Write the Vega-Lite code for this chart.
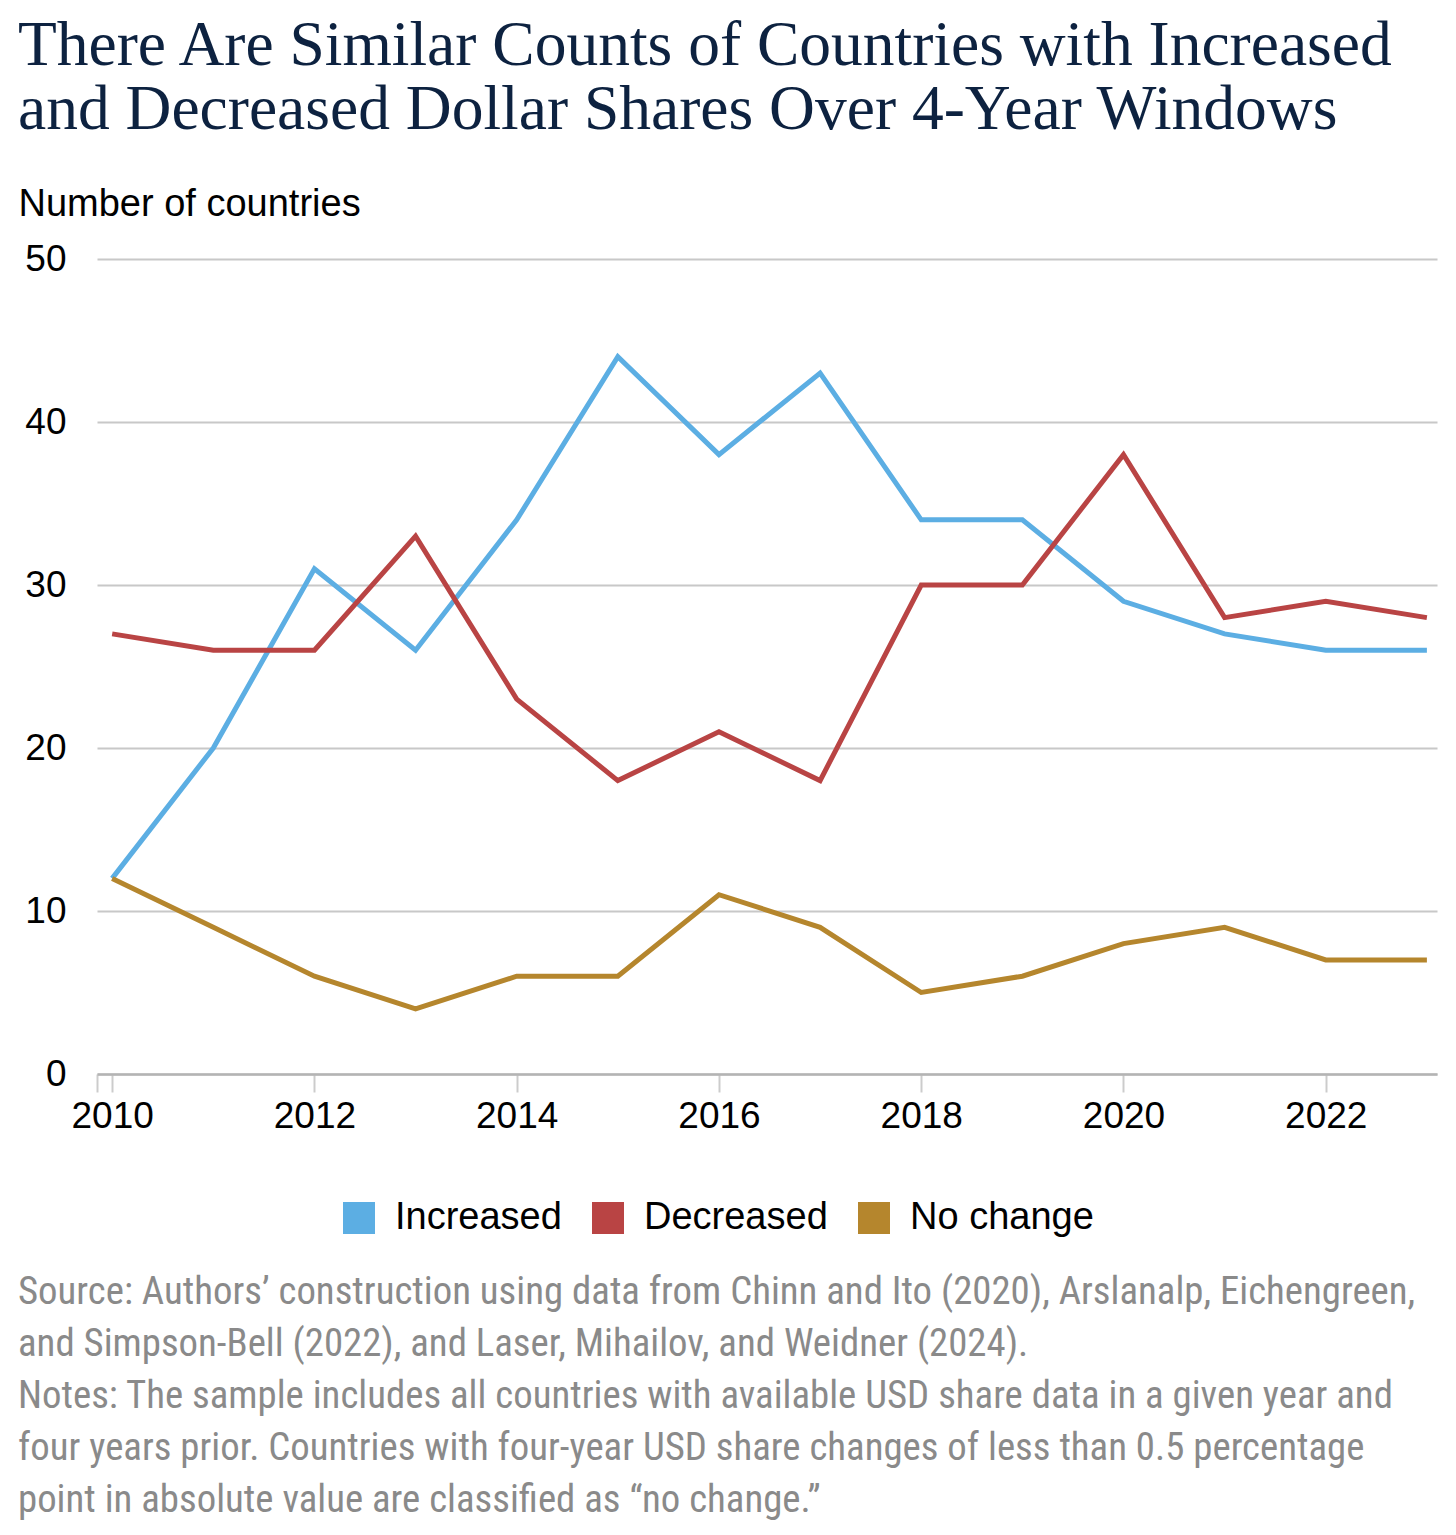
{
  "$schema": "https://vega.github.io/schema/vega-lite/v6.json",
  "background": "white",
  "padding": {"left": 18, "top": 13, "right": 19, "bottom": 10},
  "config": {
    "view": {"stroke": null},
    "font": "Liberation Sans",
    "axis": {"labelFont": "Liberation Sans", "labelColor": "#000"},
    "legend": {"labelFont": "Liberation Sans", "labelColor": "#000"},
    "concat": {"spacing": 139}
  },
  "title": {
    "text": [
      "There Are Similar Counts of Countries with Increased",
      "and Decreased Dollar Shares Over 4-Year Windows"
    ],
    "anchor": "start",
    "frame": "bounds",
    "font": "Liberation Serif",
    "fontSize": 63.5,
    "fontWeight": "normal",
    "lineHeight": 64,
    "color": "#0d2240",
    "offset": 43
  },
  "vconcat": [
    {
      "width": 1340,
      "height": 815,
      "data": {
        "values": [
          {"year": 2010, "series": "Increased", "count": 12},
          {"year": 2011, "series": "Increased", "count": 20},
          {"year": 2012, "series": "Increased", "count": 31},
          {"year": 2013, "series": "Increased", "count": 26},
          {"year": 2014, "series": "Increased", "count": 34},
          {"year": 2015, "series": "Increased", "count": 44},
          {"year": 2016, "series": "Increased", "count": 38},
          {"year": 2017, "series": "Increased", "count": 43},
          {"year": 2018, "series": "Increased", "count": 34},
          {"year": 2019, "series": "Increased", "count": 34},
          {"year": 2020, "series": "Increased", "count": 29},
          {"year": 2021, "series": "Increased", "count": 27},
          {"year": 2022, "series": "Increased", "count": 26},
          {"year": 2023, "series": "Increased", "count": 26},
          {"year": 2010, "series": "Decreased", "count": 27},
          {"year": 2011, "series": "Decreased", "count": 26},
          {"year": 2012, "series": "Decreased", "count": 26},
          {"year": 2013, "series": "Decreased", "count": 33},
          {"year": 2014, "series": "Decreased", "count": 23},
          {"year": 2015, "series": "Decreased", "count": 18},
          {"year": 2016, "series": "Decreased", "count": 21},
          {"year": 2017, "series": "Decreased", "count": 18},
          {"year": 2018, "series": "Decreased", "count": 30},
          {"year": 2019, "series": "Decreased", "count": 30},
          {"year": 2020, "series": "Decreased", "count": 38},
          {"year": 2021, "series": "Decreased", "count": 28},
          {"year": 2022, "series": "Decreased", "count": 29},
          {"year": 2023, "series": "Decreased", "count": 28},
          {"year": 2010, "series": "No change", "count": 12},
          {"year": 2011, "series": "No change", "count": 9},
          {"year": 2012, "series": "No change", "count": 6},
          {"year": 2013, "series": "No change", "count": 4},
          {"year": 2014, "series": "No change", "count": 6},
          {"year": 2015, "series": "No change", "count": 6},
          {"year": 2016, "series": "No change", "count": 11},
          {"year": 2017, "series": "No change", "count": 9},
          {"year": 2018, "series": "No change", "count": 5},
          {"year": 2019, "series": "No change", "count": 6},
          {"year": 2020, "series": "No change", "count": 8},
          {"year": 2021, "series": "No change", "count": 9},
          {"year": 2022, "series": "No change", "count": 7},
          {"year": 2023, "series": "No change", "count": 7}
        ]
      },
      "mark": {"type": "line", "strokeWidth": 5},
      "encoding": {
        "x": {
          "field": "year",
          "type": "quantitative",
          "scale": {"domain": [2009.85, 2023.1], "nice": false, "zero": false},
          "axis": {
            "title": null,
            "values": [2009.85, 2010, 2012, 2014, 2016, 2018, 2020, 2022],
            "labelExpr": "datum.value < 2010 ? '' : format(datum.value, 'd')",
            "grid": false,
            "domainColor": "#b4b4b4",
            "domainWidth": 2.5,
            "tickColor": "#cccccc",
            "tickWidth": 2,
            "tickSize": 18,
            "labelFontSize": 37,
            "labelPadding": 6
          }
        },
        "y": {
          "field": "count",
          "type": "quantitative",
          "scale": {"domain": [0, 50], "nice": false},
          "axis": {
            "title": "Number of countries",
            "titleAngle": 0,
            "titleAlign": "left",
            "titleBaseline": "alphabetic",
            "titleX": -79,
            "titleY": -44,
            "titleFont": "Liberation Sans",
            "titleFontSize": 38,
            "titleFontWeight": "normal",
            "titleColor": "#000",
            "values": [0, 10, 20, 30, 40, 50],
            "grid": true,
            "gridColor": "#c8c8c8",
            "gridWidth": 2,
            "domain": false,
            "ticks": false,
            "labelFontSize": 37,
            "labelPadding": 31
          }
        },
        "color": {
          "field": "series",
          "type": "nominal",
          "scale": {
            "domain": ["Increased", "Decreased", "No change"],
            "range": ["#5caee3", "#b94444", "#b5862d"]
          },
          "legend": {
            "title": null,
            "orient": "none",
            "legendX": 243,
            "legendY": 940,
            "direction": "horizontal",
            "symbolType": "square",
            "symbolSize": 1024,
            "labelFontSize": 38,
            "labelLimit": 400,
            "labelOffset": 17,
            "columnPadding": 27,
            "encode": {
              "symbols": {
                "update": {
                  "fill": {"scale": "color", "field": "value"},
                  "strokeWidth": {"value": 0}
                }
              }
            }
          }
        }
      }
    },
    {
      "width": 1340,
      "height": 1,
      "title": {
        "text": [
          "Source: Authors’ construction using data from Chinn and Ito (2020), Arslanalp, Eichengreen,",
          "and Simpson-Bell (2022), and Laser, Mihailov, and Weidner (2024).",
          "Notes: The sample includes all countries with available USD share data in a given year and",
          "four years prior. Countries with four-year USD share changes of less than 0.5 percentage",
          "point in absolute value are classified as “no change.”"
        ],
        "anchor": "start",
        "frame": "group",
        "dx": -79,
        "font": "Roboto Condensed, Liberation Sans Narrow, DejaVu Sans Condensed",
        "fontSize": 38.8,
        "fontWeight": "normal",
        "lineHeight": 52,
        "color": "#8a8a8a",
        "offset": 0
      },
      "data": {"values": []},
      "mark": "text",
      "encoding": {}
    }
  ]
}
